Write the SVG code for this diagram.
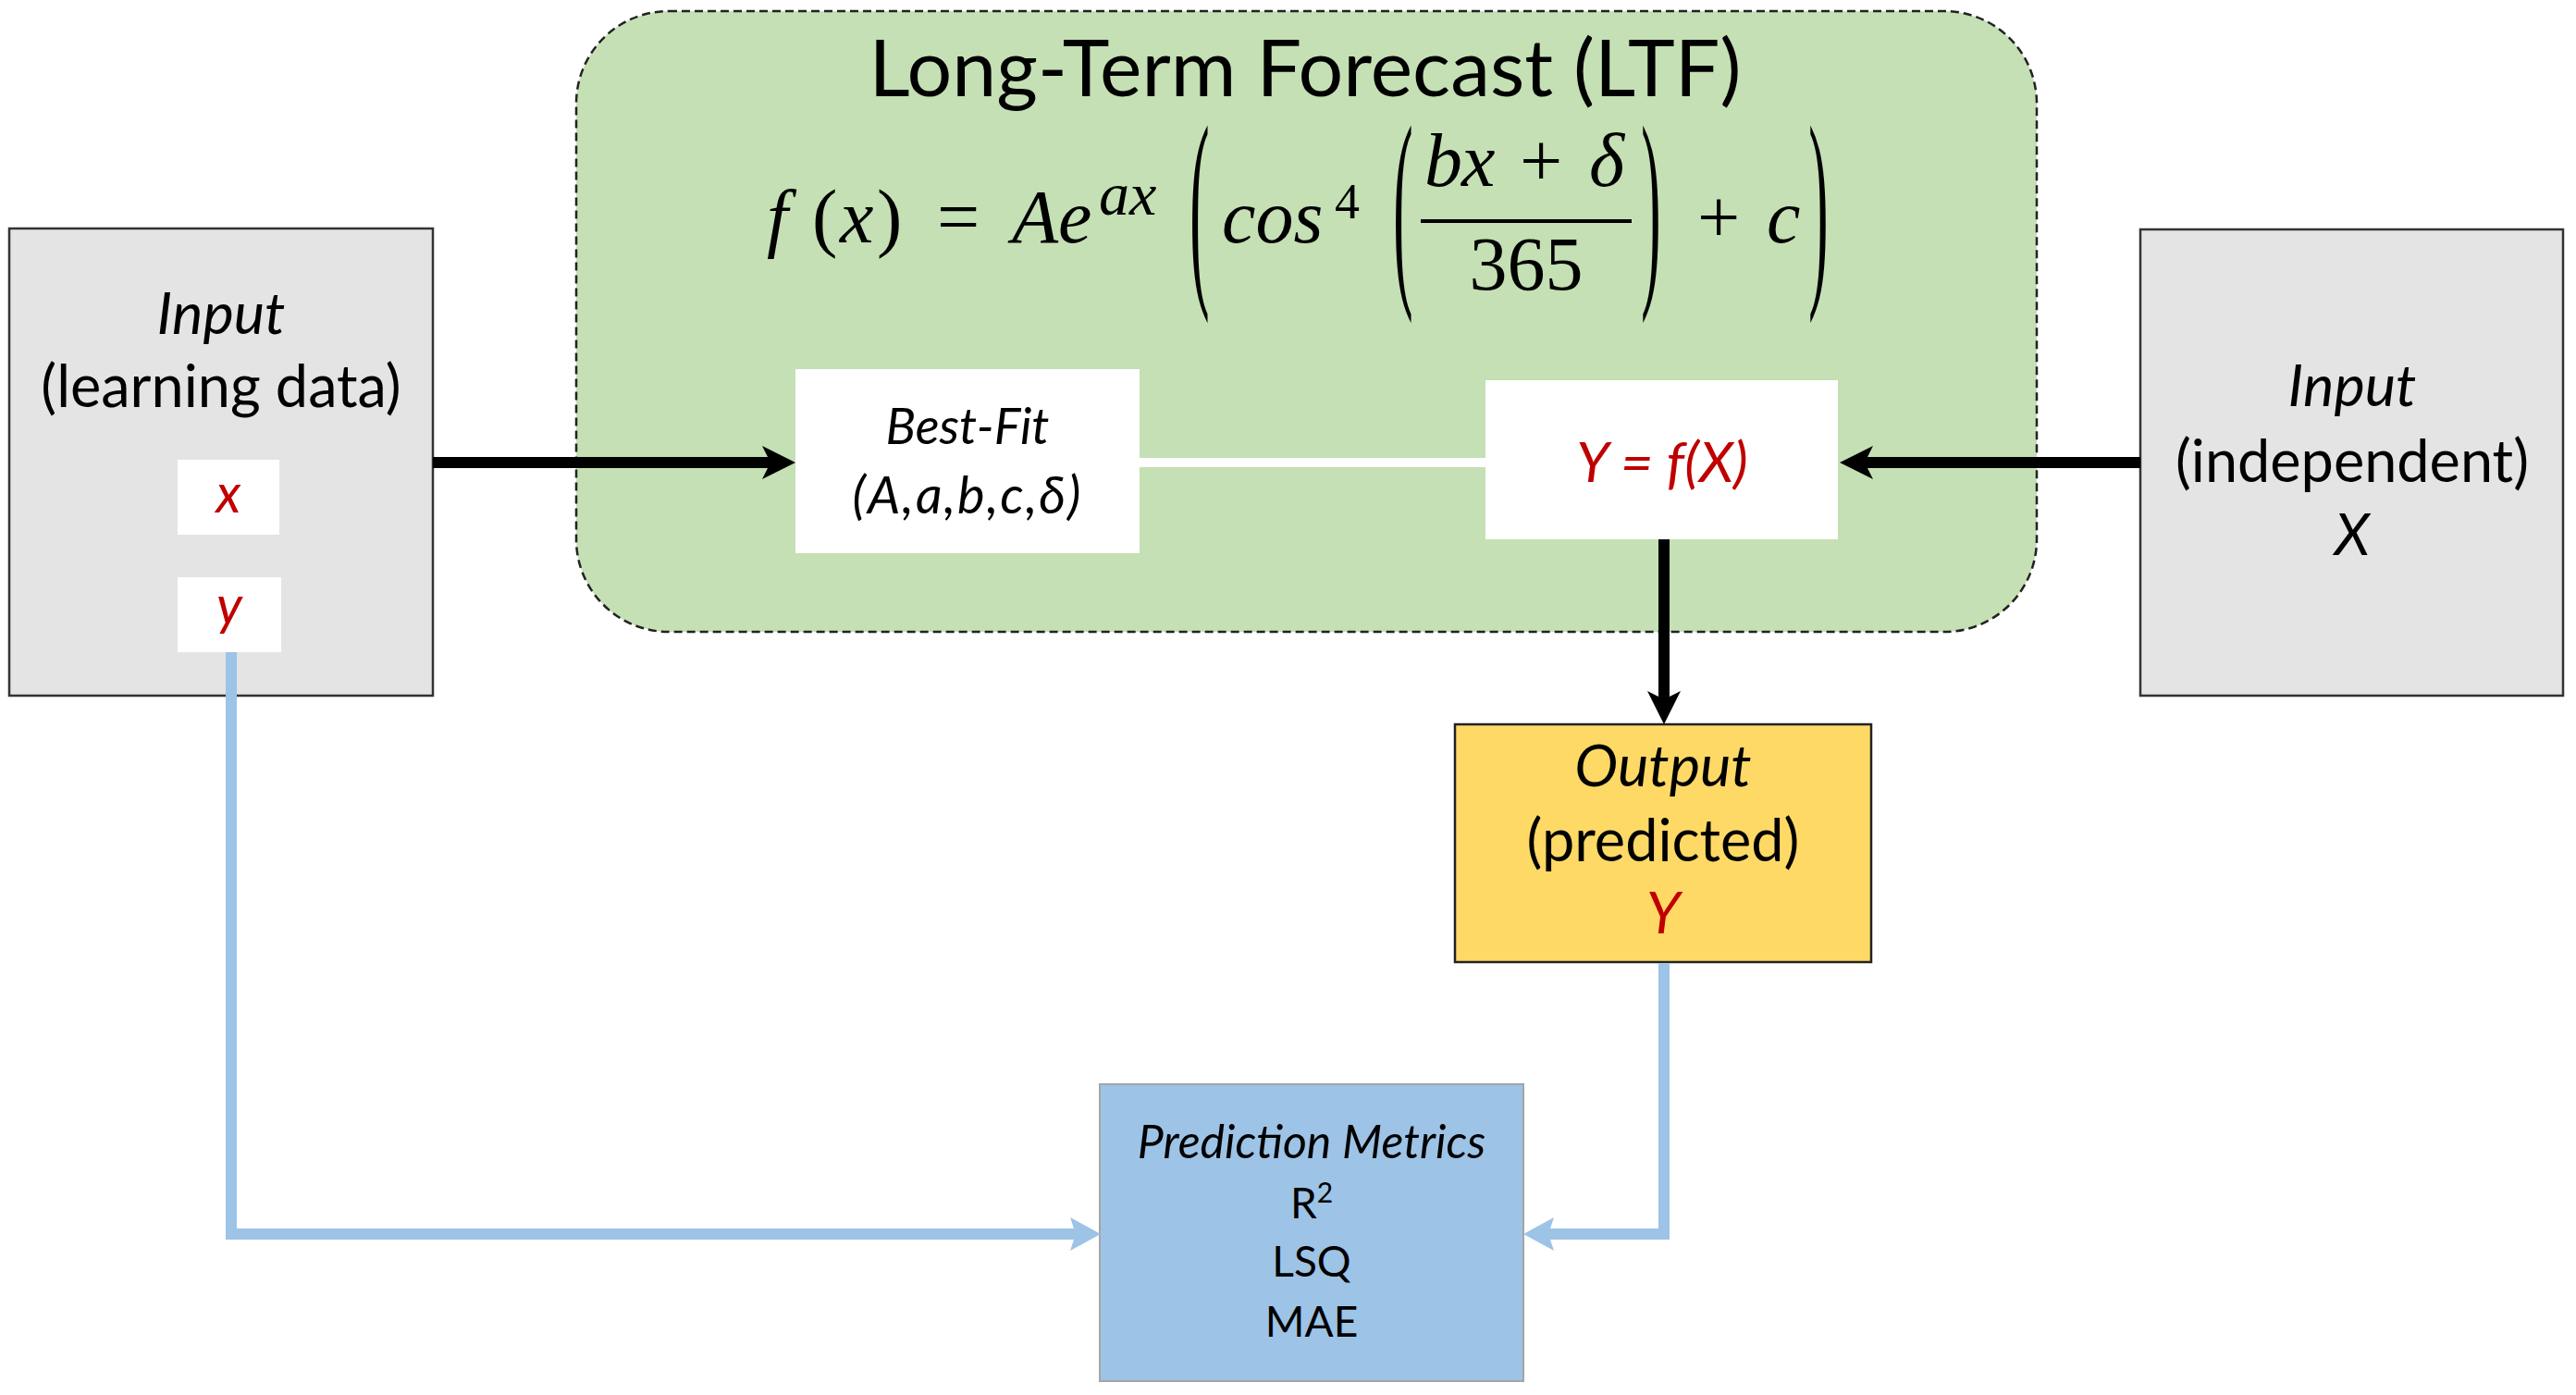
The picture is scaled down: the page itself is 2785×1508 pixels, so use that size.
<svg xmlns="http://www.w3.org/2000/svg" width="2785" height="1508" viewBox="0 0 2785 1508">
<style>
.t{font-family:Lato,"Open Sans","Liberation Sans",sans-serif;fill:#000;text-anchor:middle}
.lb{font-size:63px}
.i{font-style:italic}
.red{fill:#c00000}
.m{font-family:"Liberation Serif","DejaVu Serif",serif;fill:#000}
.mi{font-style:italic}
.gray{fill:#e4e4e4;stroke:#333;stroke-width:2.5}
.white{fill:#fff}
.blk{fill:none;stroke:#000;stroke-width:12}
.blu{fill:none;stroke:#9dc3e6;stroke-width:12;stroke-linejoin:miter}
</style>
<defs>
<marker id="ab" markerUnits="userSpaceOnUse" markerWidth="40" markerHeight="40" refX="9" refY="18" orient="auto" overflow="visible">
<path d="M0,0 L36,18 L0,36 L9,18 Z" fill="#000"/>
</marker>
<marker id="au" markerUnits="userSpaceOnUse" markerWidth="40" markerHeight="40" refX="6" refY="18" orient="auto" overflow="visible">
<path d="M0,0 L33,18 L0,36 L6,18 Z" fill="#9dc3e6"/>
</marker>
</defs>
<rect width="2785" height="1508" fill="#fff"/>

<g id="ltf">
<rect x="623" y="12" width="1579" height="671" rx="100" ry="100" fill="#c5e0b4" stroke="#222" stroke-width="2.5" stroke-dasharray="9 5"/>
<text class="t" x="1411" y="104" font-size="86">Long-Term Forecast (LTF)</text>
<g id="formula" class="m" font-size="82">
<text x="829" y="262"><tspan class="mi">f</tspan><tspan x="878">(</tspan><tspan x="908" class="mi">x</tspan><tspan x="948">)</tspan></text>
<text x="1013" y="262">=</text>
<text x="1094" y="262" class="mi">Ae</text>
<text x="1188" y="232" class="mi" font-size="66">ax</text>
<text transform="translate(1297,240) scale(1,3.68)" y="16" font-size="64" text-anchor="middle">(</text>
<text x="1321" y="262" class="mi">cos</text>
<text x="1443" y="236" font-size="54">4</text>
<text transform="translate(1517,240) scale(1,3.68)" y="16" font-size="64" text-anchor="middle">(</text>
<text y="201"><tspan x="1540" class="mi">b</tspan><tspan x="1580" class="mi">x</tspan><tspan x="1643">+</tspan><tspan x="1718" class="mi">δ</tspan></text>
<line x1="1536" y1="239" x2="1764" y2="239" stroke="#000" stroke-width="4"/>
<text x="1650" y="313" text-anchor="middle">365</text>
<text transform="translate(1785,240) scale(1,3.68)" y="16" font-size="64" text-anchor="middle">)</text>
<text x="1858" y="262" text-anchor="middle">+</text>
<text x="1910" y="262" class="mi">c</text>
<text transform="translate(1966,240) scale(1,3.68)" y="16" font-size="64" text-anchor="middle">)</text>
</g>
</g>

<g id="input-learning">
<rect class="gray" x="10" y="247" width="458" height="505"/>
<text class="t i lb" x="239" y="361">Input</text>
<text class="t lb" x="239" y="440">(learning data)</text>
</g>
<g id="var-x">
<rect class="white" x="192" y="497" width="110" height="81"/>
<text class="t i red" x="247" y="554" font-size="58">x</text>
</g>
<g id="var-y">
<rect class="white" x="192" y="624" width="112" height="81"/>
<text class="t i red" x="248" y="675" font-size="58">y</text>
</g>

<g id="input-independent">
<rect class="gray" x="2314" y="248" width="457" height="504"/>
<text class="t i lb" x="2543" y="439">Input</text>
<text class="t lb" x="2543" y="521">(independent)</text>
<text class="t i lb" x="2543" y="600">X</text>
</g>

<g id="best-fit">
<rect class="white" x="860" y="399" width="372" height="199"/>
<text class="t i" x="1046" y="480" font-size="54">Best-Fit</text>
<text class="t i" x="1046" y="555" font-size="56" letter-spacing="2">(A,a,b,c,δ)</text>
</g>

<g id="y-fx">
<rect class="white" x="1606" y="411" width="381" height="172"/>
<text class="t i red" x="1797" y="521" font-size="61">Y = f(X)</text>
</g>

<g id="output">
<rect x="1573" y="783" width="450" height="257" fill="#ffd966" stroke="#222" stroke-width="2.5"/>
<text class="t i lb" x="1798" y="850">Output</text>
<text class="t lb" x="1798" y="931">(predicted)</text>
<text class="t i red lb" x="1798" y="1009">Y</text>
</g>

<g id="metrics">
<rect x="1189" y="1172" width="458" height="321" fill="#9dc3e6" stroke="#a5a5a5" stroke-width="2"/>
<text class="t i" x="1418" y="1252" font-size="50">Prediction Metrics</text>
<text class="t" x="1418" y="1317" font-size="46">R<tspan font-size="30" dy="-17">2</tspan></text>
<text class="t" x="1418" y="1380" font-size="46">LSQ</text>
<text class="t" x="1418" y="1445" font-size="46">MAE</text>
</g>

<g id="connectors">
<line x1="1232" y1="500" x2="1606" y2="500" stroke="#fff" stroke-width="10"/>
<path class="blk" d="M468,500 L833,500" marker-end="url(#ab)"/>
<path class="blk" d="M2314,500 L2016,500" marker-end="url(#ab)"/>
<path class="blk" d="M1799,583 L1799,756" marker-end="url(#ab)"/>
<path class="blu" d="M250,705 V1334 H1163" marker-end="url(#au)"/>
<path class="blu" d="M1799,1041 V1334 H1674" marker-end="url(#au)"/>
</g>
</svg>
